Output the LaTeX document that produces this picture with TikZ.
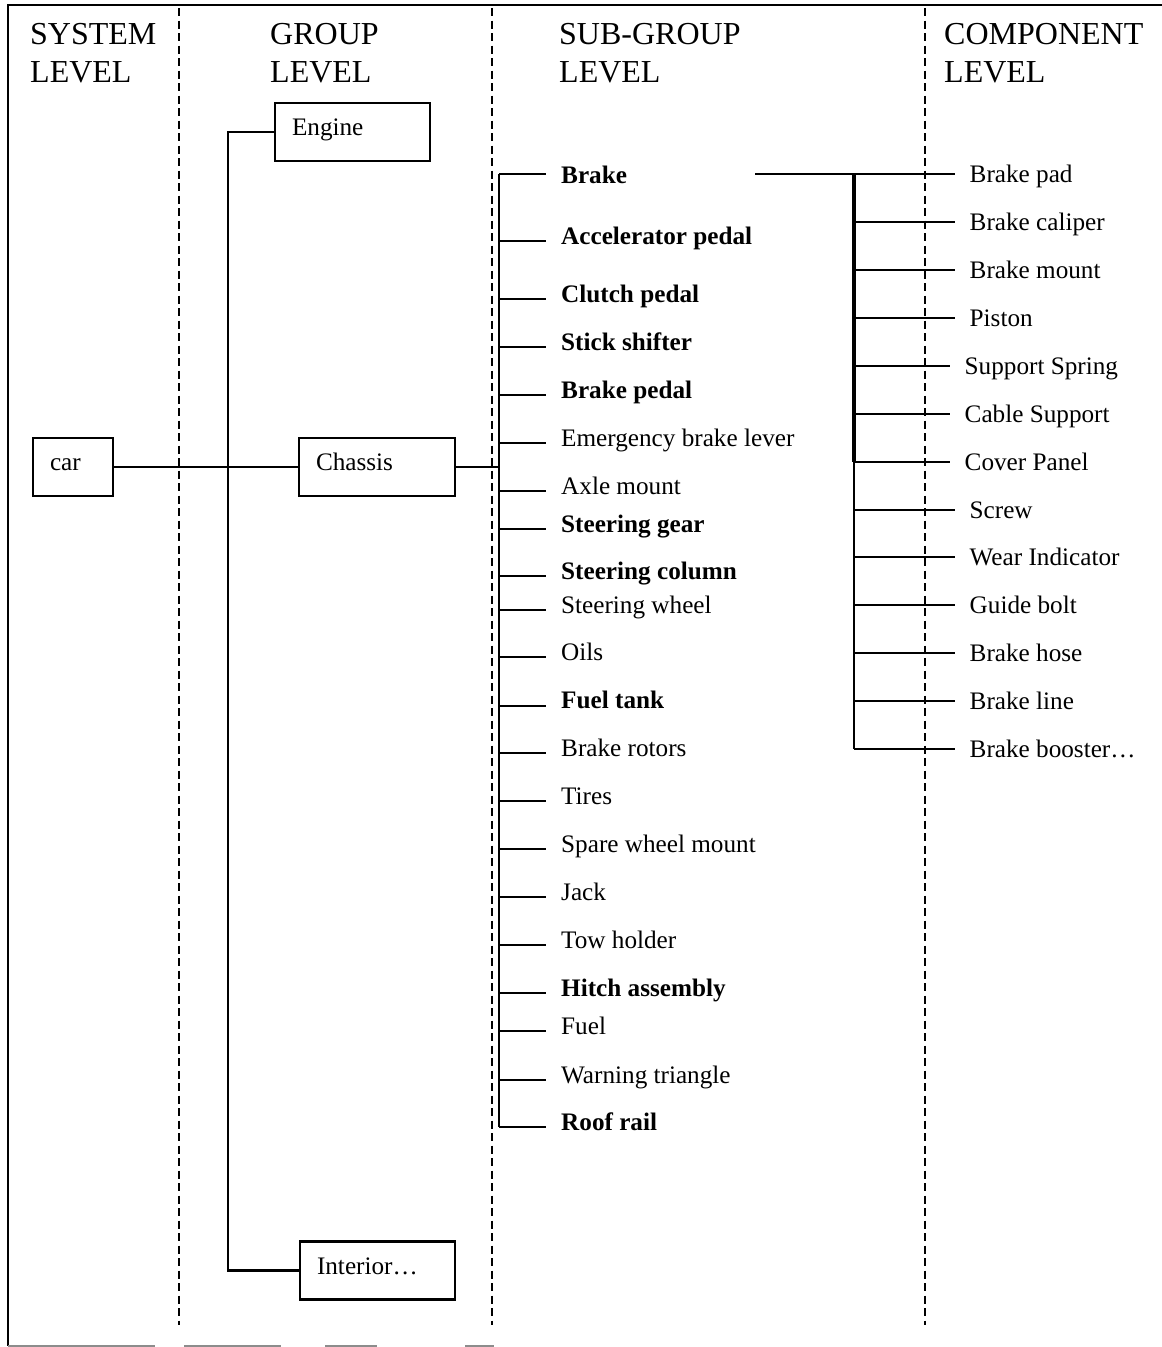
\documentclass[tikz,border=0pt]{standalone}
\usepackage{fontspec}
\setmainfont{Liberation Serif}
\newcommand\mytxt{\fontsize{25.2}{30}\selectfont}
\newcommand\myhead{\fontsize{32}{38}\selectfont}
\begin{document}
\begin{tikzpicture}[x=1pt,y=-1pt,
  frameline/.style={line width=2.2pt},
  divider/.style={line width=2.5pt, dash pattern=on 8pt off 4.5pt},
  conn/.style={line width=2.2pt},
  thickbus/.style={line width=4.5pt},
  box/.style={draw, line width=2.8pt, minimum height=58pt, inner xsep=17pt, inner ysep=0pt, text height=15pt, text depth=8pt, align=left, font=\mytxt},
  hdr/.style={anchor=north west, inner sep=0pt, align=left, font=\myhead},
  sgitem/.style={anchor=base west, inner xsep=15pt, inner ysep=0pt},
  citem/.style={anchor=base west, inner xsep=14.5pt, inner ysep=0pt, font=\mytxt}]
\useasboundingbox (0,0) rectangle (1162,1347);

% frame
\draw[frameline] (1162,5) -- (8,5) -- (8,1346);
\draw[line width=1.5pt, black!45] (8,1346) -- (155,1346) (184,1346) -- (281,1346) (325,1346) -- (377,1346) (465,1346) -- (494,1346);

% dividers
\draw[divider] (179,8) -- (179,1325);
\draw[divider] (492,8) -- (492,1325);
\draw[divider] (925,8) -- (925,1325);

% headers
\node[hdr] (h1) at (30,23) {SYSTEM\\LEVEL};
\node[hdr] (h2) at (270,23) {GROUP\\LEVEL};
\node[hdr] (h3) at (559,23) {SUB-GROUP\\LEVEL};
\node[hdr] (h4) at (944,23) {COMPONENT\\LEVEL};

% boxes
\node[box, text width=46pt] (car) at (73,467) {car};
\node[box, text width=121pt] (engine) at (352.5,132) {Engine};
\node[box, text width=122pt] (chassis) at (377,467) {Chassis};
\node[box, text width=121pt] (interior) at (377.5,1270.5) {Interior…};

% group-level connectors
\coordinate (gb) at (228,0);
\draw[conn] (car.east) -- (chassis.west);
\draw[conn] (engine.west) -- (engine.west -| gb) -- (interior.west -| gb) -- (interior.west);

% sub-group items
\foreach \n/\ty/\by/\t/\f in {
  sa/174/183/Brake/\bfseries,
  sb/241/244/Accelerator pedal/\bfseries,
  sc/299/302/Clutch pedal/\bfseries,
  sd/347/350/Stick shifter/\bfseries,
  se/395/398/Brake pedal/\bfseries,
  sf/443/446/Emergency brake lever/\mdseries,
  sg/491/494/Axle mount/\mdseries,
  sh/529/532/Steering gear/\bfseries,
  si/576/579/Steering column/\bfseries,
  sj/610/613/Steering wheel/\mdseries,
  sk/657/660/Oils/\mdseries,
  sl/706/708/Fuel tank/\bfseries,
  sm/753/756/Brake rotors/\mdseries,
  sn/801/804/Tires/\mdseries,
  so/849/852/Spare wheel mount/\mdseries,
  sp/897/900/Jack/\mdseries,
  sq/945/948/Tow holder/\mdseries,
  sr/993/996/Hitch assembly/\bfseries,
  ss/1031/1034/Fuel/\mdseries,
  st/1080/1083/Warning triangle/\mdseries,
  su/1127/1130/Roof rail/\bfseries}{
  \coordinate (t\n) at (499,\ty);
  \node[sgitem, font=\mytxt\f] (\n) at (546,\by) {\t};
  \draw[conn] (t\n) -- (t\n -| \n.base west);
}
\draw[conn] (tsa) -- (tsu);
\draw[conn] (chassis.east) -- (chassis.east -| tsa);

% component items
\foreach \n/\ty/\ex/\t in {
  ca/174/955/Brake pad,
  cb/222/955/Brake caliper,
  cc/270/955/Brake mount,
  cd/318/955/Piston,
  ce/366/950/Support Spring,
  cf/414/950/Cable Support,
  cg/462/950/Cover Panel,
  ch/510/955/Screw,
  ci/557/955/Wear Indicator,
  cj/605/955/Guide bolt,
  ck/653/955/Brake hose,
  cl/701/955/Brake line,
  cm/749/955/Brake booster…}{
  \coordinate (t\n) at (854,\ty);
  \node[citem] (\n) at (\ex,\ty+8) {\t};
  \draw[conn] (t\n) -- (t\n -| \n.base west);
}
\coordinate (brkout) at (755,174);
\draw[conn] (brkout) -- (tca);
\draw[thickbus] (tca) -- (tcg);
\draw[conn] (tcg) -- (tcm);
\end{tikzpicture}
\end{document}
